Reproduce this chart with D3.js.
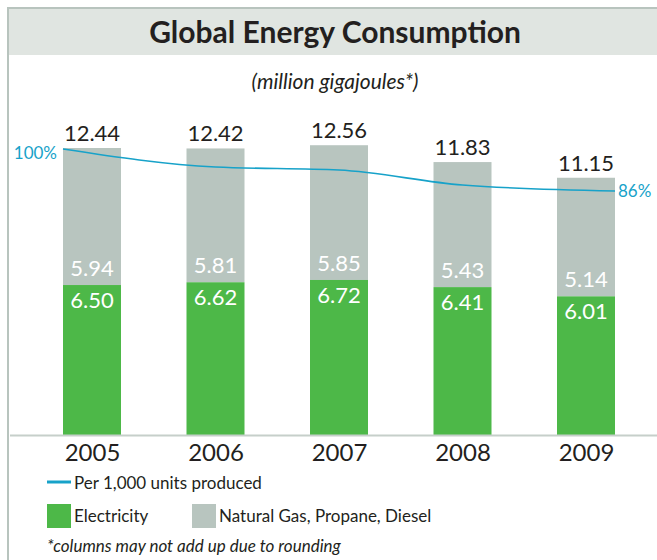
<!DOCTYPE html>
<html><head><meta charset="utf-8">
<script src="https://cdn.jsdelivr.net/npm/d3@7"></script>
<style>
html,body{margin:0;padding:0;background:#fff;}
svg text{font-family:Lato,"Open Sans",sans-serif;}
</style>
</head><body>
<svg id="chart" width="657" height="560"></svg>
<script>
const years = ["2005","2006","2007","2008","2009"];
const electricity = [6.50, 6.62, 6.72, 6.41, 6.01];
const gas = [5.94, 5.81, 5.85, 5.43, 5.14];
const totals = [12.44, 12.42, 12.56, 11.83, 11.15];
const perUnit = [100, 94, 93, 88, 86];

const svg = d3.select("#chart");
const GREEN = "#4db848", GRAY = "#b8c5bf", BLUE = "#17a2c9", INK = "#231f20";

// frame
svg.append("rect").attr("x",8).attr("y",8).attr("width",660).attr("height",47).attr("fill","#e0e5e1");
svg.append("line").attr("x1",8).attr("x2",657).attr("y1",8).attr("y2",8).attr("stroke","#b8c4be").attr("stroke-width",2);
svg.append("line").attr("x1",8).attr("x2",8).attr("y1",7).attr("y2",560).attr("stroke","#b8c4be").attr("stroke-width",2);

svg.append("text").attr("x",335).attr("y",43).attr("text-anchor","middle")
  .attr("font-size",30).attr("font-weight",700).attr("fill",INK).text("Global Energy Consumption");
svg.append("text").attr("x",335).attr("y",89).attr("text-anchor","middle")
  .attr("font-size",21).attr("font-style","italic").attr("fill",INK).text("(million gigajoules*)");

const x = d3.scalePoint().domain(years).range([92, 586]);
const bw = 58;
const y = d3.scaleLinear().domain([0, 14]).range([435, 112]);
const yl = d3.scaleLinear().domain([86, 100]).range([191, 149]);

const data = years.map((yr,i)=>({yr, e:electricity[i], g:gas[i], t:totals[i], p:perUnit[i]}));

// bars
const g = svg.append("g");
g.selectAll(".gas").data(data).join("rect")
  .attr("x",d=>x(d.yr)-bw/2).attr("width",bw)
  .attr("y",d=>y(d.t)).attr("height",d=>y(d.e)-y(d.t)).attr("fill",GRAY);
g.selectAll(".el").data(data).join("rect")
  .attr("x",d=>x(d.yr)-bw/2).attr("width",bw)
  .attr("y",d=>y(d.e)).attr("height",d=>y(0)-y(d.e)).attr("fill",GREEN);

// baseline
svg.append("line").attr("x1",10).attr("x2",657).attr("y1",435.5).attr("y2",435.5).attr("stroke","#c6cfca").attr("stroke-width",2);

// labels
g.selectAll(".tl").data(data).join("text")
  .attr("x",d=>x(d.yr)).attr("y",d=>y(d.t)-7).attr("text-anchor","middle")
  .attr("font-size",22).attr("fill",INK).text(d=>d3.format(".2f")(d.t));
g.selectAll(".gl").data(data).join("text")
  .attr("x",d=>x(d.yr)).attr("y",d=>y(d.e)-9).attr("text-anchor","middle")
  .attr("font-size",22).attr("fill","#fff").text(d=>d3.format(".2f")(d.g));
g.selectAll(".el2").data(data).join("text")
  .attr("x",d=>x(d.yr)).attr("y",d=>y(d.e)+23).attr("text-anchor","middle")
  .attr("font-size",22).attr("fill","#fff").text(d=>d3.format(".2f")(d.e));

// x axis labels
const xAxis = d3.axisBottom(x).tickSize(0).tickPadding(0);
const ax = svg.append("g").attr("transform","translate(0,444)").call(xAxis);
ax.select(".domain").remove();
ax.selectAll("text").attr("font-size",24).attr("fill",INK).attr("dy","0.71em")
  .style("font-family","Lato, sans-serif");

// line
const lx = (d,i)=> i===0 ? x(d.yr)-bw/2 : (i===data.length-1 ? x(d.yr)+bw/2 : x(d.yr));
const line = d3.line().x(lx).y(d=>yl(d.p)).curve(d3.curveMonotoneX);
svg.append("path").datum(data).attr("d",line).attr("fill","none").attr("stroke",BLUE).attr("stroke-width",1.6);
svg.append("text").attr("x",lx(data[0],0)-6).attr("y",yl(data[0].p)+10).attr("text-anchor","end")
  .attr("font-size",17).attr("fill",BLUE).text(data[0].p+"%");
const li = data.length-1;
svg.append("text").attr("x",lx(data[li],li)+3).attr("y",yl(data[li].p)+6)
  .attr("font-size",17).attr("fill",BLUE).text(data[li].p+"%");

// legend
svg.append("line").attr("x1",47).attr("x2",71).attr("y1",482).attr("y2",482).attr("stroke",BLUE).attr("stroke-width",3);
svg.append("text").attr("x",74).attr("y",489).attr("font-size",17).attr("fill",INK).text("Per 1,000 units produced");
svg.append("rect").attr("x",47).attr("y",504).attr("width",24).attr("height",24).attr("fill",GREEN);
svg.append("text").attr("x",74).attr("y",522).attr("font-size",17).attr("fill",INK).text("Electricity");
svg.append("rect").attr("x",192).attr("y",504).attr("width",24).attr("height",24).attr("fill",GRAY);
svg.append("text").attr("x",219).attr("y",522).attr("font-size",17).attr("fill",INK).text("Natural Gas, Propane, Diesel");
svg.append("text").attr("x",47).attr("y",552).attr("font-size",17).attr("font-style","italic").attr("fill",INK)
  .text("*columns may not add up due to rounding");
</script>
</body></html>
